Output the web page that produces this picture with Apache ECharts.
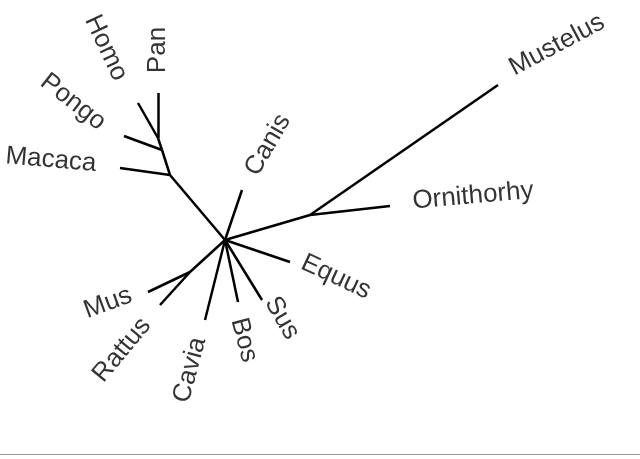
<!DOCTYPE html>
<html>
<head>
<meta charset="utf-8">
<script src="https://cdn.jsdelivr.net/npm/echarts@6/dist/echarts.min.js"></script>
<style>
html,body{margin:0;padding:0;background:#fff;}
#main{width:640px;height:459px;}
#rule{position:absolute;left:0;top:454px;width:640px;height:1px;background:#999;}
</style>
</head>
<body>
<div id="main"></div>
<div id="rule"></div>
<script>
// node positions (tree layout space, y down)
var nodeNames = ['A','B','C','D','E','F','Homo','Pan','Pongo','Macaca','Canis','Mustelus','Ornithorhy','Equus','Sus','Bos','Cavia','Rattus','Mus'];
var nodeX = [225,170,162,158,310,190,138,158,124,120,242,498,390,290,262,238,205,160,148];
var nodeY = [240,175,150,138,215,272,103,93,136,168,190,85,206,262,300,302,320,305,292];
var edges = [['A','B'],['B','C'],['C','D'],['D','Homo'],['D','Pan'],['C','Pongo'],['B','Macaca'],
  ['A','Canis'],['A','E'],['E','Mustelus'],['E','Ornithorhy'],['A','Equus'],['A','Sus'],
  ['A','Bos'],['A','Cavia'],['A','F'],['F','Rattus'],['F','Mus']];
// tip labels: centre and rotation
var labelNames = ['Homo','Pan','Pongo','Macaca','Canis','Mustelus','Ornithorhy','Equus','Sus','Bos','Cavia','Rattus','Mus'];
var labelX = [106,158,73,51,268,557,473,336,282,244,190,122,108];
var labelY = [48,50,102,160,145,45,196,277,318,340,370,350,303];
var labelRot = [-65,90,-38,-5,60,28,5,-25,-60,-75,75,50,20];

function pos(n){var i=nodeNames.indexOf(n);return [nodeX[i],nodeY[i]];}
var chart = echarts.init(document.getElementById('main'));
chart.setOption({
  animation:false,
  grid:{left:0,right:0,top:0,bottom:0},
  xAxis:{type:'value',min:0,max:640,show:false},
  yAxis:{type:'value',min:0,max:459,inverse:true,show:false},
  series:[
    {type:'lines',coordinateSystem:'cartesian2d',
     lineStyle:{color:'#000',width:2.5,opacity:1},
     data:edges.map(function(e){return {coords:[pos(e[0]),pos(e[1])]};})},
    {type:'scatter',symbolSize:0,
     data:labelNames.map(function(n,i){
       return {value:[labelX[i],labelY[i]],name:n,
         label:{show:true,position:'inside',rotate:labelRot[i],formatter:n,
           color:'#000',fontSize:26,fontFamily:'Liberation Sans',align:'center',verticalAlign:'middle',
           textBorderWidth:0}};
     })}
  ]
});
</script>
</body>
</html>
